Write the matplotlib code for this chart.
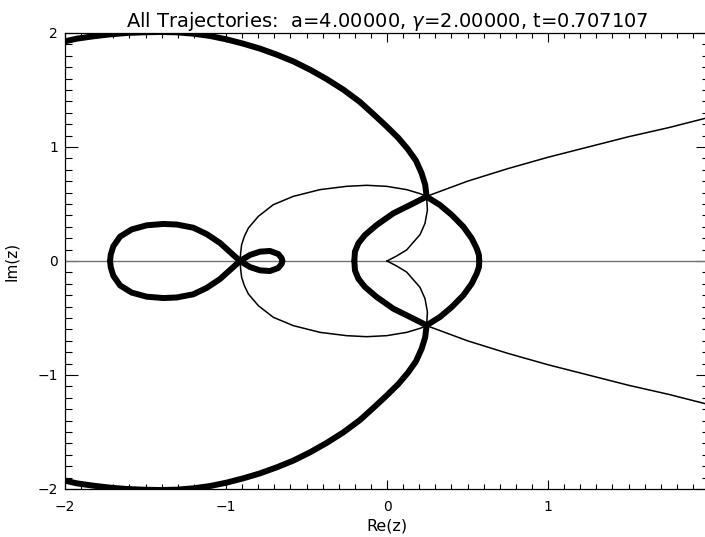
import matplotlib
matplotlib.use('Agg')
import matplotlib.pyplot as plt
from matplotlib.ticker import MultipleLocator

# upper halves of the trajectories (lower halves are mirror images)
outer_x = [-2.0, -1.928, -1.824, -1.72, -1.617, -1.513, -1.41, -1.306, -1.203, -1.099, -0.996, -0.892,
           -0.789, -0.685, -0.582, -0.478, -0.375, -0.271, -0.168, -0.085, -0.002, 0.070, 0.130, 0.180,
           0.215, 0.237, 0.246]
outer_y = [1.927, 1.95, 1.971, 1.988, 2.0, 2.006, 2.009, 2.006, 1.994, 1.974, 1.944, 1.906,
           1.863, 1.81, 1.751, 1.678, 1.596, 1.503, 1.395, 1.289, 1.18, 1.08, 0.98, 0.88,
           0.77, 0.67, 0.567]

lens_right_x = [0.246, 0.329, 0.402, 0.474, 0.526, 0.557, 0.571, 0.573]
lens_right_y = [0.564, 0.491, 0.404, 0.301, 0.199, 0.111, 0.053, 0.0]
lens_left_x = [0.246, 0.143, 0.039, -0.064, -0.137, -0.178, -0.199, -0.203]
lens_left_y = [0.564, 0.491, 0.418, 0.316, 0.228, 0.155, 0.082, 0.0]

lobe_x = [-0.913, -0.975, -1.037, -1.12, -1.203, -1.306, -1.389, -1.493, -1.586, -1.658, -1.70, -1.716, -1.72]
lobe_y = [0.0, 0.079, 0.158, 0.236, 0.292, 0.32, 0.325, 0.313, 0.277, 0.214, 0.129, 0.055, 0.0]
small_lobe_x = [-0.913, -0.851, -0.789, -0.727, -0.675, -0.654, -0.650]
small_lobe_y = [0.0, 0.053, 0.082, 0.088, 0.061, 0.024, 0.0]

arc_x = [-0.913, -0.909, -0.903, -0.886, -0.861, -0.799, -0.706, -0.582, -0.416, -0.251, -0.126,
         -0.002, 0.122, 0.205, 0.246]
arc_y = [0.0, 0.07, 0.143, 0.216, 0.289, 0.392, 0.494, 0.567, 0.626, 0.655, 0.664,
         0.655, 0.626, 0.591, 0.567]
cusp_x = [0.246, 0.251, 0.236, 0.205, 0.122, 0.06, 0.0]
cusp_y = [0.567, 0.447, 0.33, 0.231, 0.097, 0.044, 0.0]
ray_x = [0.246, 0.5, 0.75, 1.0, 1.25, 1.5, 1.75, 2.0]
ray_y = [0.567, 0.70, 0.81, 0.91, 1.0, 1.09, 1.17, 1.26]

thick_curves = [(outer_x, outer_y), (lens_right_x, lens_right_y), (lens_left_x, lens_left_y),
                (lobe_x, lobe_y), (small_lobe_x, small_lobe_y)]
thin_curves = [(arc_x, arc_y), (cusp_x, cusp_y), (ray_x, ray_y)]

plt.rcParams['font.family'] = ['DejaVu Sans']
fig = plt.figure(figsize=(7.05, 5.37), dpi=100)
# the right edge of the plot box sits just outside the image, as in the original
ax = fig.add_axes([65 / 705, 48 / 537, 644 / 705, 456 / 537])

ax.axhline(0, color='0.45', lw=1.0)

for xs, ys in thin_curves:
    ax.plot(xs, ys, color='black', lw=1.1)
    ax.plot(xs, [-v for v in ys], color='black', lw=1.1)

for xs, ys in thick_curves:
    ax.plot(xs, ys, color='black', lw=4.3, solid_capstyle='round', solid_joinstyle='round')
    ax.plot(xs, [-v for v in ys], color='black', lw=4.3, solid_capstyle='round', solid_joinstyle='round')

ax.set_xlim(-2, 2)
ax.set_ylim(-2, 2)
ax.xaxis.set_major_locator(MultipleLocator(1))
ax.xaxis.set_minor_locator(MultipleLocator(0.1))
ax.yaxis.set_major_locator(MultipleLocator(1))
ax.yaxis.set_minor_locator(MultipleLocator(0.1))
ax.tick_params(axis='x', which='major', direction='in', top=True, length=6.6, width=0.8, labelsize=10, pad=8)
ax.tick_params(axis='x', which='minor', direction='in', top=True, length=3.3, width=0.8)
ax.tick_params(axis='y', which='major', direction='in', right=True, length=9.4, width=0.8, labelsize=10, pad=5)
ax.tick_params(axis='y', which='minor', direction='in', right=True, length=4.7, width=0.8)
for s in ax.spines.values():
    s.set_linewidth(0.9)

ax.set_xlabel('Re(z)', fontsize=11.5, labelpad=3)
ax.set_ylabel('Im(z)', fontsize=11, labelpad=13)
ax.set_title('All Trajectories:  a=4.00000, $\\gamma$=2.00000, t=0.707107', fontsize=14, pad=4)

fig.savefig('out.png', dpi=100)
